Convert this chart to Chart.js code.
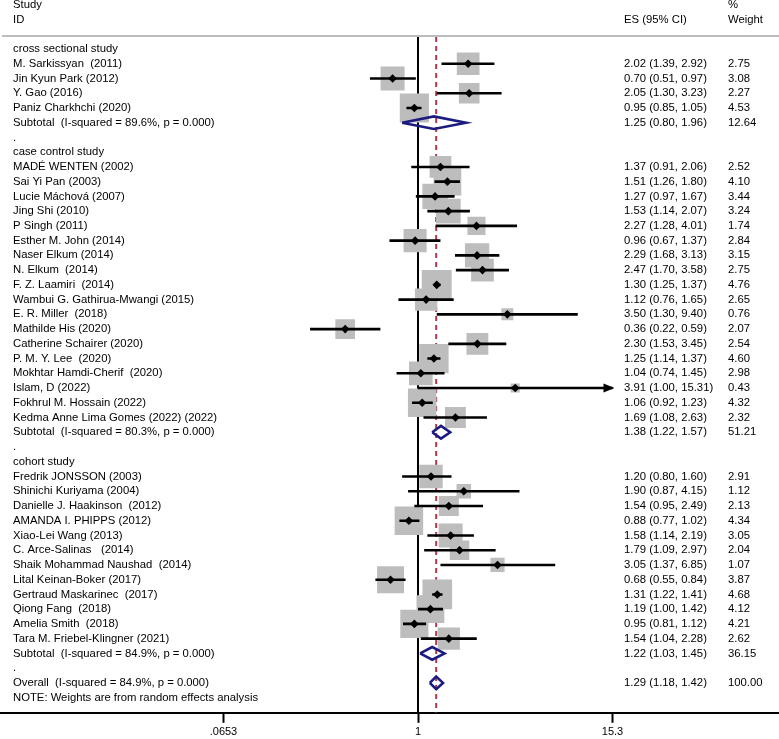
<!DOCTYPE html>
<html>
<head>
<meta charset="utf-8">
<script src="https://cdn.jsdelivr.net/npm/chart.js@4"></script>
<style>
  html, body { margin: 0; padding: 0; background: #fff; }
  #wrap { width: 779px; height: 739px; position: relative; }
</style>
</head>
<body>
<div id="wrap"><canvas id="myChart"></canvas></div>
<script>
//Study groups and the studies in each (group index per study)
const groups = ['cross sectional study', 'case control study', 'cohort study'];

const studyNames = [
  'M. Sarkissyan  (2011)', 'Jin Kyun Park (2012)', 'Y. Gao (2016)', 'Paniz Charkhchi (2020)',
  'MADÉ WENTEN (2002)', 'Sai Yi Pan (2003)', 'Lucie Máchová (2007)', 'Jing Shi (2010)',
  'P Singh (2011)', 'Esther M. John (2014)', 'Naser Elkum (2014)', 'N. Elkum  (2014)',
  'F. Z. Laamiri  (2014)', 'Wambui G. Gathirua-Mwangi (2015)', 'E. R. Miller  (2018)',
  'Mathilde His (2020)', 'Catherine Schairer (2020)', 'P. M. Y. Lee  (2020)',
  'Mokhtar Hamdi-Cherif  (2020)', 'Islam, D (2022)', 'Fokhrul M. Hossain (2022)',
  'Kedma Anne Lima Gomes (2022) (2022)',
  'Fredrik JONSSON (2003)', 'Shinichi Kuriyama (2004)', 'Danielle J. Haakinson  (2012)',
  'AMANDA I. PHIPPS (2012)', 'Xiao-Lei Wang (2013)', 'C. Arce-Salinas   (2014)',
  'Shaik Mohammad Naushad  (2014)', 'Lital Keinan-Boker (2017)', 'Gertraud Maskarinec  (2017)',
  'Qiong Fang  (2018)', 'Amelia Smith  (2018)', 'Tara M. Friebel-Klingner (2021)'
];
const studyGroup = [0,0,0,0, 1,1,1,1,1,1,1,1,1,1,1,1,1,1,1,1,1,1, 2,2,2,2,2,2,2,2,2,2,2,2];

const studyES = [2.02, 0.70, 2.05, 0.95,
  1.37, 1.51, 1.27, 1.53, 2.27, 0.96, 2.29, 2.47, 1.30, 1.12, 3.50, 0.36, 2.30, 1.25, 1.04, 3.91, 1.06, 1.69,
  1.20, 1.90, 1.54, 0.88, 1.58, 1.79, 3.05, 0.68, 1.31, 1.19, 0.95, 1.54];
const studyLo = [1.39, 0.51, 1.30, 0.85,
  0.91, 1.26, 0.97, 1.14, 1.28, 0.67, 1.68, 1.70, 1.25, 0.76, 1.30, 0.22, 1.53, 1.14, 0.74, 1.00, 0.92, 1.08,
  0.80, 0.87, 0.95, 0.77, 1.14, 1.09, 1.37, 0.55, 1.22, 1.00, 0.81, 1.04];
const studyHi = [2.92, 0.97, 3.23, 1.05,
  2.06, 1.80, 1.67, 2.07, 4.01, 1.37, 3.13, 3.58, 1.37, 1.65, 9.40, 0.59, 3.45, 1.37, 1.45, 15.31, 1.23, 2.63,
  1.60, 4.15, 2.49, 1.02, 2.19, 2.97, 6.85, 0.84, 1.41, 1.42, 1.12, 2.28];
const studyWeight = [2.75, 3.08, 2.27, 4.53,
  2.52, 4.10, 3.44, 3.24, 1.74, 2.84, 3.15, 2.75, 4.76, 2.65, 0.76, 2.07, 2.54, 4.60, 2.98, 0.43, 4.32, 2.32,
  2.91, 1.12, 2.13, 4.34, 3.05, 2.04, 1.07, 3.87, 4.68, 4.12, 4.21, 2.62];

//Pooled estimates per group
const subLabels = ['Subtotal  (I-squared = 89.6%, p = 0.000)', 'Subtotal  (I-squared = 80.3%, p = 0.000)', 'Subtotal  (I-squared = 84.9%, p = 0.000)'];
const subES = [1.25, 1.38, 1.22];
const subLo = [0.80, 1.22, 1.03];
const subHi = [1.96, 1.57, 1.45];
const subWeight = [12.64, 51.21, 36.15];

const overallLabel = 'Overall  (I-squared = 84.9%, p = 0.000)';
const overallES = 1.29, overallLo = 1.18, overallHi = 1.42, overallWeight = 100.00;
const noteText = 'NOTE: Weights are from random effects analysis';

const tickValues = [0.0653, 1, 15.3];
const tickLabels = ['.0653', '1', '15.3'];

//Fonts and colours
const FONT = '"Liberation Sans", Arial, Helvetica, sans-serif';
const FONT_SIZE = 11.3;
const boxGrey = '#bdbdbd';
const navy = '#1c1c80';
const dashRed = '#ad3a4a';

//Lay out rows: group header, studies, subtotal, '.'
const textRows = [];
const studyRow = [];
const subRow = [];
var r = 0;
groups.forEach(function(g, gi) {
  textRows.push({ text: g, row: r++ });
  studyNames.forEach(function(n, i) {
    if (studyGroup[i] !== gi) return;
    studyRow[i] = r;
    textRows.push({ text: n, row: r, es: fmtCI(studyES[i], studyLo[i], studyHi[i]), w: studyWeight[i].toFixed(2) });
    r++;
  });
  subRow[gi] = r;
  textRows.push({ text: subLabels[gi], row: r, es: fmtCI(subES[gi], subLo[gi], subHi[gi]), w: subWeight[gi].toFixed(2) });
  r++;
  textRows.push({ text: '.', row: r++ });
});
const overallRow = r;
textRows.push({ text: overallLabel, row: r++, es: fmtCI(overallES, overallLo, overallHi), w: overallWeight.toFixed(2) });
textRows.push({ text: noteText, row: r });

function fmtCI(e, l, h) {
  return e.toFixed(2) + ' (' + l.toFixed(2) + ', ' + h.toFixed(2) + ')';
}

const xMax = tickValues[tickValues.length - 1];
const yTop = -0.814, yBottom = 45.03;
const diaH = 0.43;

//Build datasets (first in list is drawn on top)
const datasets = [];

datasets.push({
  data: studyES.map((v, i) => ({ x: v, y: studyRow[i] })),
  pointStyle: 'rectRot', pointRadius: 4.3, backgroundColor: '#000', borderWidth: 0
});

studyLo.forEach(function(lo, i) {
  datasets.push({
    data: [{ x: lo, y: studyRow[i] }, { x: Math.min(studyHi[i], xMax), y: studyRow[i] }],
    showLine: true, borderColor: '#000', borderWidth: 2.6, pointRadius: 0, borderCapStyle: 'butt'
  });
});

function diamond(e, l, h, row) {
  return {
    data: [{ x: l, y: row }, { x: e, y: row - diaH }, { x: h, y: row }, { x: e, y: row + diaH }, { x: l, y: row }],
    showLine: true, borderColor: navy, borderWidth: 2.6, pointRadius: 0, fill: false, tension: 0
  };
}
subES.forEach(function(e, gi) { datasets.push(diamond(e, subLo[gi], subHi[gi], subRow[gi])); });
datasets.push(diamond(overallES, overallLo, overallHi, overallRow));

//Weight boxes, area proportional to weight
datasets.push({
  data: studyES.map((v, i) => ({ x: v, y: studyRow[i] })),
  pointStyle: 'rect',
  pointRadius: studyWeight.map(w => 13.7 * Math.sqrt(w) / Math.SQRT2),
  backgroundColor: boxGrey, borderWidth: 0
});

//Overall effect (dashed) and null line
datasets.push({
  data: [{ x: overallES, y: yTop }, { x: overallES, y: yBottom }],
  showLine: true, borderColor: dashRed, borderWidth: 2, borderDash: [5, 4], pointRadius: 0
});
datasets.push({
  data: [{ x: 1, y: yTop }, { x: 1, y: yBottom }],
  showLine: true, borderColor: '#000', borderWidth: 2, pointRadius: 0
});

//Text columns, header and arrows
const textPlugin = {
  id: 'forestText',
  afterDatasetsDraw(chart) {
    const ctx = chart.ctx, xs = chart.scales.x, ys = chart.scales.y;
    ctx.save();
    //arrows for CIs beyond the axis
    studyHi.forEach(function(h, i) {
      if (h <= xMax) return;
      const px = xs.getPixelForValue(xMax), py = ys.getPixelForValue(studyRow[i]);
      ctx.fillStyle = '#000';
      ctx.beginPath();
      ctx.moveTo(px + 2, py);
      ctx.lineTo(px - 9, py - 4.5);
      ctx.lineTo(px - 9, py + 4.5);
      ctx.closePath();
      ctx.fill();
    });
    ctx.fillStyle = '#000';
    ctx.font = FONT_SIZE + 'px ' + FONT;
    ctx.textBaseline = 'middle';
    ctx.textAlign = 'left';
    ctx.fillText('Study', 13, ys.getPixelForValue(-3));
    ctx.fillText('ID', 13, ys.getPixelForValue(-2));
    ctx.fillText('ES (95% CI)', 624, ys.getPixelForValue(-2));
    ctx.fillText('%', 728, ys.getPixelForValue(-3));
    ctx.fillText('Weight', 728, ys.getPixelForValue(-2));
    textRows.forEach(function(t) {
      const py = ys.getPixelForValue(t.row);
      ctx.fillText(t.text, 13, py);
      if (t.es) ctx.fillText(t.es, 624, py);
      if (t.w) ctx.fillText(t.w, 728, py);
    });
    //header separator
    ctx.strokeStyle = '#bdbdbd';
    ctx.lineWidth = 2;
    ctx.beginPath();
    ctx.moveTo(2, chart.chartArea.top - 1);
    ctx.lineTo(779, chart.chartArea.top - 1);
    ctx.stroke();
    ctx.restore();
  }
};

const config = {
  type: 'scatter',
  data: { datasets: datasets },
  options: {
    animation: false,
    responsive: true,
    maintainAspectRatio: false,
    events: [],
    layout: { autoPadding: false, padding: { top: 37, left: 0, right: 0, bottom: -3 } },
    plugins: { legend: { display: false }, tooltip: { enabled: false } },
    scales: {
      x: {
        type: 'logarithmic',
        min: 0.002842, max: 158.1,
        bounds: 'data',
        afterBuildTicks: function(scale) {
          scale.ticks = tickValues.map(v => ({ value: v }));
        },
        ticks: {
          autoSkip: false, maxRotation: 0, minRotation: 0, padding: 3,
          color: '#000', font: { family: FONT, size: 11 },
          callback: (v, i) => tickLabels[i]
        },
        grid: { drawOnChartArea: false, drawTicks: true, tickLength: 10, tickWidth: 2, tickColor: '#000' },
        border: { display: true, color: '#000', width: 2 }
      },
      y: {
        type: 'linear', reverse: true, min: yTop, max: yBottom, display: false
      }
    }
  },
  plugins: [textPlugin]
};

var myChart = new Chart(document.getElementById('myChart').getContext('2d'), config);
</script>
</body>
</html>
